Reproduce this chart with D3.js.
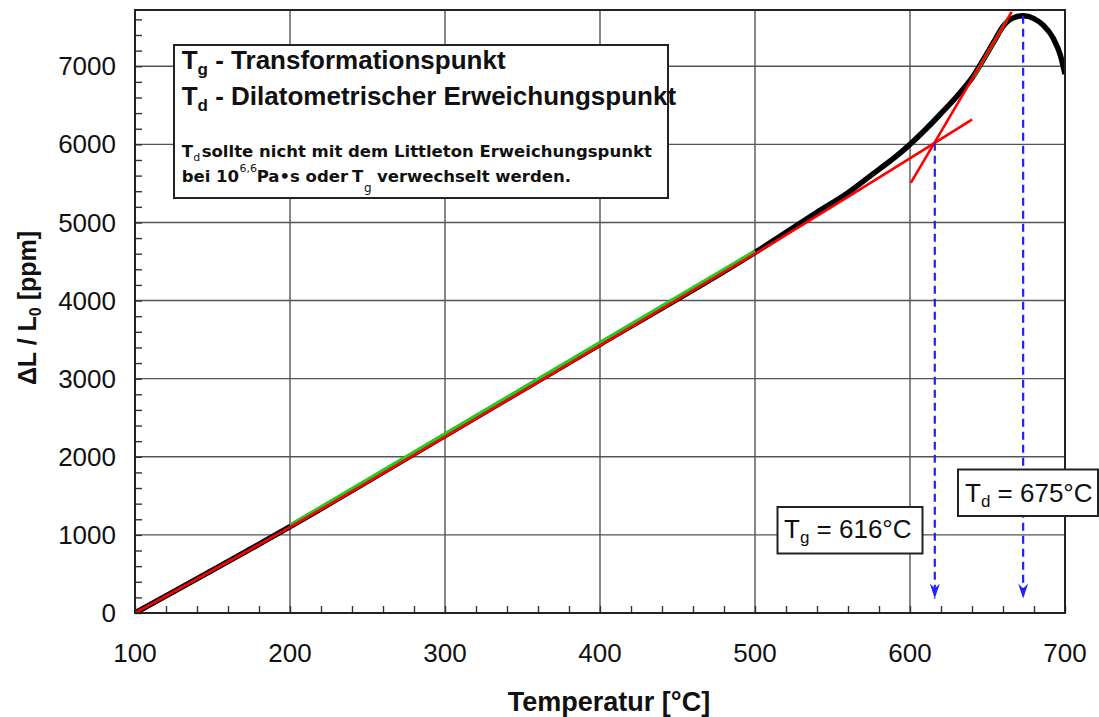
<!DOCTYPE html>
<html>
<head>
<meta charset="utf-8">
<script src="https://cdn.jsdelivr.net/npm/d3@7"></script>
<style>
  body { margin: 0; background: #fff; }
  svg { display: block; }
  text { font-family: "Liberation Sans", Arial, sans-serif; fill: #111; }
</style>
</head>
<body>
<svg id="chart" width="1099" height="717"></svg>
<script>
// --- Data ---
// measured expansion curve (black)
const curveTemp = [100, 200, 300, 400, 500, 540, 560, 574, 580, 590, 600, 610, 620, 630, 640, 650, 655, 660, 664, 668, 673, 680, 686, 692.5, 697, 700];
const curveDL   = [0, 1105, 2270, 3440, 4615, 5130, 5380, 5590, 5680, 5830, 6000, 6190, 6395, 6610, 6850, 7175, 7345, 7510, 7590, 7630, 7645, 7610, 7525, 7355, 7140, 6900];

// lower tangent (red)
const lowTangentTemp = [100, 200, 300, 400, 500, 640];
const lowTangentDL   = [0, 1100, 2255, 3425, 4600, 6318];

// upper tangent (red)
const highTangentTemp = [600.5, 665.6];
const highTangentDL   = [5506, 7695];

// fitted ranges (green)
const fitLowTemp  = [200, 500];
const fitLowDL    = [1125, 4635];
const fitHighTemp = [641, 662.4];
const fitHighDL   = [6863, 7589];

// characteristic points (blue arrows)
const markTemp = [616, 673];
const markTopDL = [6020, 7645];
const markBottomDL = 185;

// axis ticks
const xTickLabels = [100, 200, 300, 400, 500, 600, 700];
const yTickLabels = [0, 1000, 2000, 3000, 4000, 5000, 6000, 7000];

const svg = d3.select("#chart");

// plot frame in pixels
const frameLeft = 135, frameRight = 1065, frameTop = 10, frameBottom = 613;

const x = d3.scaleLinear().domain([100, 700]).range([frameLeft, frameRight]);
const y = d3.scaleLinear().domain([0, 7720]).range([frameBottom, frameTop]);

const zip = (a, b) => a.map((v, i) => [v, b[i]]);

// clip curves to the frame
const defs = svg.append("defs");
defs.append("clipPath").attr("id", "plot-clip")
  .append("rect")
  .attr("x", frameLeft).attr("y", frameTop)
  .attr("width", frameRight - frameLeft).attr("height", frameBottom - frameTop);

defs.append("marker")
  .attr("id", "arrow")
  .attr("viewBox", "-16 -6 17 12")
  .attr("markerUnits", "userSpaceOnUse")
  .attr("markerWidth", 17)
  .attr("markerHeight", 12)
  .attr("refX", 0).attr("refY", 0)
  .attr("orient", "auto")
  .append("path")
  .attr("d", "M0,0 L-15,-5 L-10,0 L-15,5 Z")
  .attr("fill", "#2020ff");

// --- Grid ---
const grid = svg.append("g").attr("class", "grid");
grid.selectAll(".vgrid")
  .data(xTickLabels.slice(1, -1))
  .enter().append("line")
  .attr("x1", d => x(d)).attr("x2", d => x(d))
  .attr("y1", frameTop).attr("y2", frameBottom)
  .attr("stroke", "#555").attr("stroke-width", 1.4);
grid.selectAll(".hgrid")
  .data(yTickLabels.slice(1))
  .enter().append("line")
  .attr("x1", frameLeft).attr("x2", frameRight)
  .attr("y1", d => y(d)).attr("y2", d => y(d))
  .attr("stroke", "#555").attr("stroke-width", 1.4);

// --- Minor ticks (inside the frame) ---
const xAxisMinor = svg.append("g")
  .attr("transform", `translate(0,${frameBottom})`)
  .call(d3.axisBottom(x).ticks(30).tickSize(-7).tickFormat(""));
const yAxisMinor = svg.append("g")
  .attr("transform", `translate(${frameLeft},0)`)
  .call(d3.axisLeft(y).ticks(40).tickSize(-7).tickFormat(""));
[xAxisMinor, yAxisMinor].forEach(g => {
  g.select(".domain").remove();
  g.selectAll("line").attr("stroke", "#333").attr("stroke-width", 1.4);
});

// --- Curves ---
const smooth = d3.line().x(d => x(d[0])).y(d => y(d[1])).curve(d3.curveMonotoneX);
const straight = d3.line().x(d => x(d[0])).y(d => y(d[1]));
const curves = svg.append("g").attr("clip-path", "url(#plot-clip)");

curves.append("path")
  .datum(zip(curveTemp, curveDL))
  .attr("d", smooth)
  .attr("fill", "none").attr("stroke", "#000").attr("stroke-width", 5.5)
  .attr("stroke-linejoin", "round");

[[fitLowTemp, fitLowDL], [fitHighTemp, fitHighDL]].forEach(([t, v]) => {
  curves.append("path")
    .datum(zip(t, v))
    .attr("d", straight)
    .attr("fill", "none").attr("stroke", "#22cc22").attr("stroke-width", 3.2);
});

curves.append("path")
  .datum(zip(lowTangentTemp, lowTangentDL))
  .attr("d", smooth)
  .attr("fill", "none").attr("stroke", "#ff0000").attr("stroke-width", 2.6);

curves.append("path")
  .datum(zip(highTangentTemp, highTangentDL))
  .attr("d", straight)
  .attr("fill", "none").attr("stroke", "#ff0000").attr("stroke-width", 2.6);

// --- Blue dashed arrows ---
svg.selectAll(".mark-arrow")
  .data(markTemp)
  .enter().append("line")
  .attr("class", "mark-arrow")
  .attr("x1", d => x(d)).attr("x2", d => x(d))
  .attr("y1", (d, i) => y(markTopDL[i]))
  .attr("y2", y(markBottomDL))
  .attr("stroke", "#2020ff").attr("stroke-width", 2.2)
  .attr("stroke-dasharray", "8,5")
  .attr("marker-end", "url(#arrow)");

// --- Frame ---
svg.append("rect")
  .attr("x", frameLeft).attr("y", frameTop)
  .attr("width", frameRight - frameLeft).attr("height", frameBottom - frameTop)
  .attr("fill", "none").attr("stroke", "#222").attr("stroke-width", 2);

// --- Tick labels ---
svg.append("g").selectAll("text")
  .data(xTickLabels)
  .enter().append("text")
  .attr("x", d => x(d)).attr("y", frameBottom + 49)
  .attr("text-anchor", "middle")
  .attr("font-size", 26)
  .text(d => d);

svg.append("g").selectAll("text")
  .data(yTickLabels)
  .enter().append("text")
  .attr("x", frameLeft - 19).attr("y", d => y(d))
  .attr("dy", "0.35em")
  .attr("text-anchor", "end")
  .attr("font-size", 26)
  .text(d => d);

// --- Axis titles ---
svg.append("text")
  .attr("x", 609).attr("y", 711)
  .attr("text-anchor", "middle")
  .attr("font-size", 27).attr("font-weight", "bold")
  .text("Temperatur [°C]");

const yTitle = svg.append("text")
  .attr("transform", "translate(36,308) rotate(-90)")
  .attr("text-anchor", "middle")
  .attr("font-size", 25).attr("font-weight", "bold");
yTitle.append("tspan").text("ΔL / L");
yTitle.append("tspan").attr("font-size", 16).attr("dy", 5).text("0");
yTitle.append("tspan").attr("dy", -5).text("  [ppm]");

// --- Legend box ---
svg.append("rect")
  .attr("x", 174).attr("y", 45).attr("width", 494).attr("height", 153)
  .attr("fill", "#fff").attr("stroke", "#222").attr("stroke-width", 2);

function bigLine(baseline, sub, rest) {
  const t = svg.append("text")
    .attr("x", 181.7).attr("y", baseline)
    .attr("font-size", 26).attr("font-weight", "bold");
  t.append("tspan").text("T");
  t.append("tspan").attr("font-size", 17).attr("dy", 6).text(sub);
  t.append("tspan").attr("dy", -6).text(" - " + rest);
}
bigLine(69.3, "g", "Transformationspunkt");
bigLine(105, "d", "Dilatometrischer Erweichungspunkt");

function smallText(xp, yp, str, size, weight) {
  return svg.append("text").attr("x", xp).attr("y", yp)
    .style("font-family", "'DejaVu Sans', sans-serif")
    .attr("font-weight", weight || "bold")
    .attr("font-size", size || 16.5)
    .text(str);
}
smallText(181.7, 157.3, "T");
smallText(193.2, 160.5, "d", 11, "normal");
smallText(201.7, 157.3, "sollte nicht mit dem Littleton Erweichungspunkt");
smallText(181.7, 181.7, "bei 10");
smallText(239.5, 171.5, "6,6", 11, "normal");
smallText(256.7, 181.7, "Pa•s oder");
smallText(352, 181.7, "T");
smallText(364, 191.5, "g", 12, "normal");
smallText(377, 181.7, "verwechselt werden.");

// --- Value boxes ---
function valueBox(bx, by, bw, bh, tx, ty, sub, subDy, rest) {
  svg.append("rect")
    .attr("x", bx).attr("y", by).attr("width", bw).attr("height", bh)
    .attr("fill", "#fff").attr("stroke", "#222").attr("stroke-width", 2);
  const t = svg.append("text").attr("x", tx).attr("y", ty).attr("font-size", 26);
  t.append("tspan").text("T");
  t.append("tspan").attr("font-size", 17).attr("dy", subDy).text(sub);
  t.append("tspan").attr("dy", -subDy).text(rest);
}
valueBox(777.5, 507, 145, 46.5, 784, 538.3, "g", 5, " = 616°C");
valueBox(958, 469.5, 140, 46.5, 965, 501.7, "d", 5, " = 675°C");
</script>
</body>
</html>
